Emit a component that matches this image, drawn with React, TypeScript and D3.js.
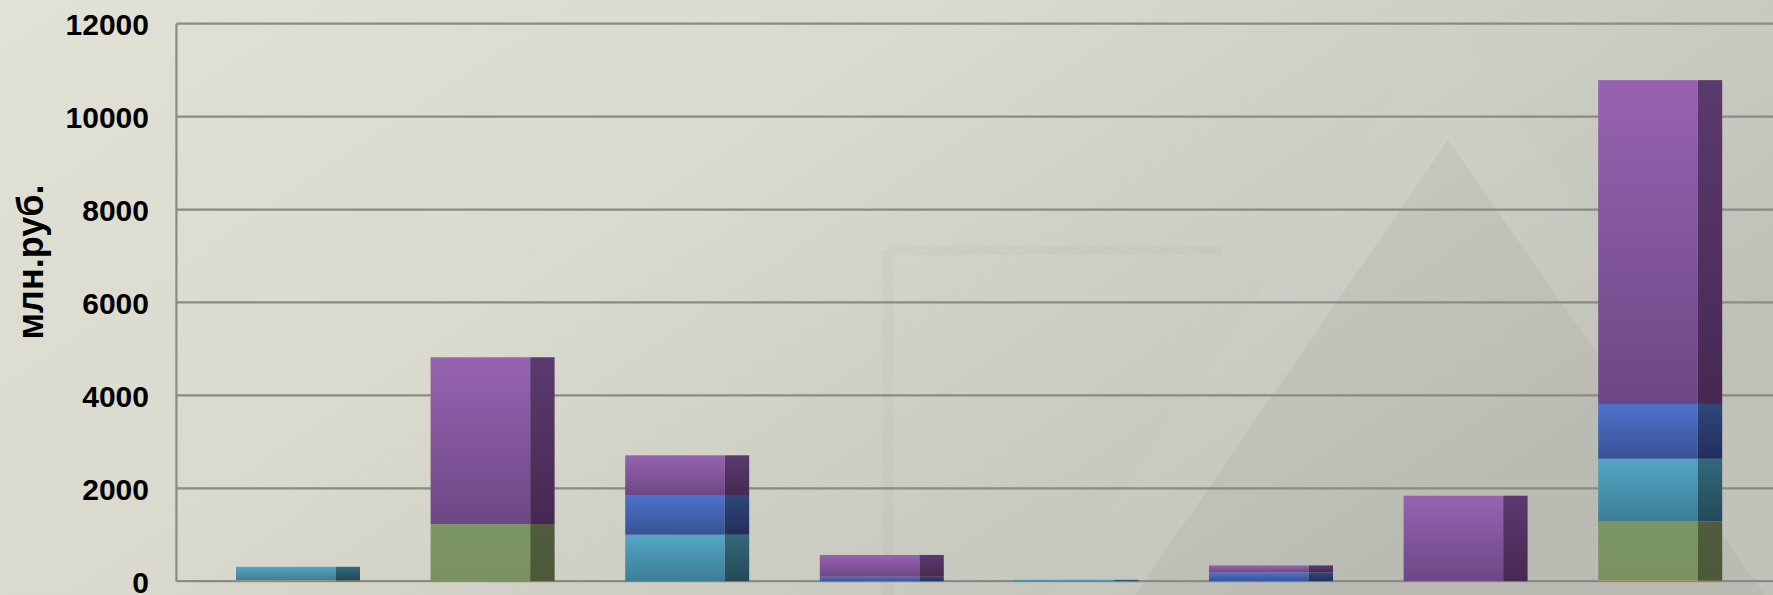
import * as React from 'react';
import * as d3 from 'd3';

const dimensions = { width: 1773, height: 595 };
const margin = { top: 23.7, left: 176.4, bottom: 13.8 };

// no category labels are printed on the chart
const categories = ['1', '2', '3', '4', '5', '6', '7', '8'];
const seriesKeys = ['tan', 'green', 'teal', 'blue', 'purple'];

const tanValues = [20, 0, 0, 0, 0, 0, 0, 20];
const greenValues = [0, 1230, 0, 0, 0, 0, 0, 1265];
const tealValues = [290, 0, 1000, 0, 30, 0, 0, 1350];
const blueValues = [0, 0, 855, 95, 0, 190, 0, 1180];
const purpleValues = [0, 3590, 855, 470, 0, 150, 1840, 6970];

const yTicks = [0, 2000, 4000, 6000, 8000, 10000, 12000];
const yTitle = 'млн.руб.';

const colors: Record<string, { top: string; bottom: string; sideTop: string; sideBottom: string }> = {
  tan: { top: '#c9a468', bottom: '#b8945a', sideTop: '#8a7044', sideBottom: '#7a6038' },
  green: { top: '#7c9564', bottom: '#7a9262', sideTop: '#505c3e', sideBottom: '#4c583a' },
  teal: { top: '#53a7c5', bottom: '#3d7d94', sideTop: '#33687a', sideBottom: '#234a58' },
  blue: { top: '#4b72ca', bottom: '#395296', sideTop: '#2f4779', sideBottom: '#222e5c' },
  purple: { top: '#9763b1', bottom: '#6d4785', sideTop: '#5b3a6f', sideBottom: '#462952' },
};

const App: React.FC = () => {
  const table = categories.map((c, i) => ({
    category: c,
    tan: tanValues[i],
    green: greenValues[i],
    teal: tealValues[i],
    blue: blueValues[i],
    purple: purpleValues[i],
  }));

  const stacked = d3.stack<any>().keys(seriesKeys)(table);

  const step = 194.6;
  const x = d3
    .scaleBand(categories, [margin.left, margin.left + step * categories.length])
    .padding(0);
  const y = d3.scaleLinear([0, 12000], [dimensions.height - margin.bottom, margin.top]);

  const barOffset = 59.6;
  const frontW = 99.6;
  const sideW = 24.4;

  return (
    <svg
      width={dimensions.width}
      height={dimensions.height}
      viewBox={`0 0 ${dimensions.width} ${dimensions.height}`}
      style={{ position: 'absolute', left: 0, top: 0, display: 'block' }}
      fontFamily="'Liberation Sans', Arial, sans-serif"
    >
      <defs>
        <linearGradient id="bg" x1="0" y1="0" x2="1" y2="0.5">
          <stop offset="0" stopColor="#e2e1d5" />
          <stop offset="0.45" stopColor="#d9d9cd" />
          <stop offset="1" stopColor="#bfc1b9" />
        </linearGradient>
        {seriesKeys.map((k) => (
          <React.Fragment key={k}>
            <linearGradient id={`f-${k}`} x1="0" y1="0" x2="0" y2="1">
              <stop offset="0" stopColor={colors[k].top} />
              <stop offset="1" stopColor={colors[k].bottom} />
            </linearGradient>
            <linearGradient id={`s-${k}`} x1="0" y1="0" x2="0" y2="1">
              <stop offset="0" stopColor={colors[k].sideTop} />
              <stop offset="1" stopColor={colors[k].sideBottom} />
            </linearGradient>
          </React.Fragment>
        ))}
      </defs>

      {/* textured slide background, roughly */}
      <rect width={dimensions.width} height={dimensions.height} fill="url(#bg)" />
      <polygon points="1448,20 1050,595 1860,595" fill="#ffffff" opacity={0.04} />
      <polygon points="1448,140 1135,595 1765,595" fill="#000000" opacity={0.035} />
      <path d="M888,250 L1222,250 M888,250 L888,595" stroke="#000" strokeOpacity={0.025} strokeWidth={10} fill="none" />

      {/* grid */}
      <g>
        {yTicks.map((t) => (
          <line
            key={t}
            x1={margin.left}
            x2={dimensions.width}
            y1={y(t)}
            y2={y(t)}
            stroke="#8a8a86"
            strokeWidth={2.2}
          />
        ))}
        <line
          x1={margin.left}
          x2={margin.left}
          y1={y(12000)}
          y2={y(0)}
          stroke="#8a8a86"
          strokeWidth={2.2}
        />
      </g>

      {/* bars */}
      <g>
        {stacked.map((layer) =>
          layer.map((d, i) => {
            const h = y(d[0]) - y(d[1]);
            if (h <= 0) return null;
            const x0 = (x(categories[i]) as number) + barOffset;
            return (
              <g key={`${layer.key}-${i}`}>
                <rect x={x0} y={y(d[1])} width={frontW} height={h} fill={`url(#f-${layer.key})`} />
                <rect
                  x={x0 + frontW}
                  y={y(d[1])}
                  width={sideW}
                  height={h}
                  fill={`url(#s-${layer.key})`}
                />
              </g>
            );
          })
        )}
      </g>

      {/* y tick labels */}
      <g>
        {yTicks.map((t) => (
          <text
            key={t}
            x={149}
            y={y(t) + 1}
            textAnchor="end"
            dominantBaseline="central"
            fontSize={30}
            fontWeight="bold"
            fill="#000"
          >
            {t}
          </text>
        ))}
      </g>

      <text
        transform="translate(30,262) rotate(-90)"
        textAnchor="middle"
        dominantBaseline="central"
        fontSize={36}
        fontWeight="bold"
        fill="#000"
      >
        {yTitle}
      </text>
    </svg>
  );
};

export default App;
